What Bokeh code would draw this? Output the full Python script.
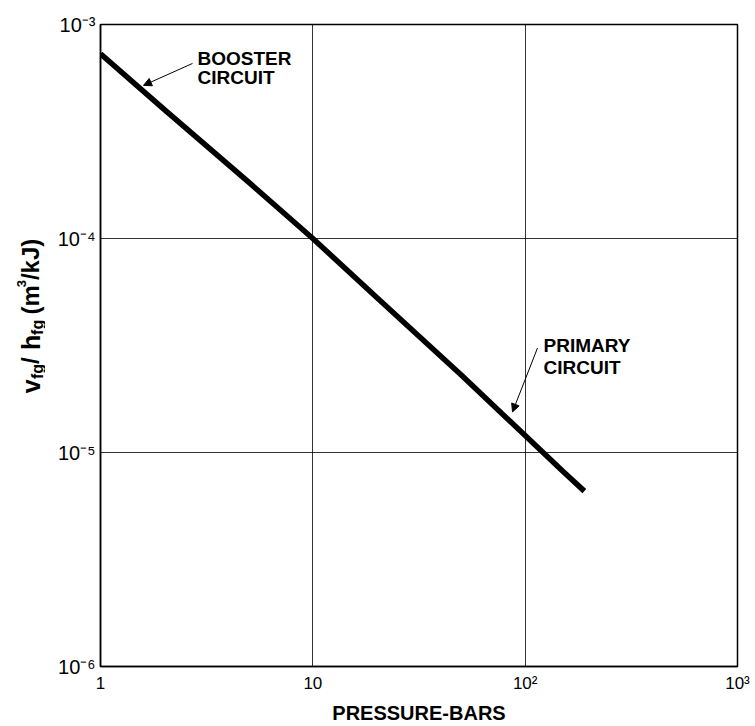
import numpy as np
from bokeh.plotting import figure
from bokeh.layouts import row
from bokeh.models import FixedTicker, Label, Arrow, NormalHead, ColumnDataSource
from bokeh.core.properties import value
from bokeh.embed import file_html
from bokeh.resources import INLINE

# ---- data ----
pressure_bar = [1, 2, 5, 10, 20, 50, 100, 150, 190]
vfg_over_hfg = [7.3e-4, 4.0e-4, 1.83e-4, 1.0e-4, 5.3e-5, 2.3e-5, 1.2e-5, 8.2e-6, 6.6e-6]

x_ticks = [1, 10, 100, 1000]
x_tick_labels = ["1", "10", "10\u00b2", "10\u00b3"]
y_ticks = [1e-6, 1e-5, 1e-4, 1e-3]
y_tick_labels = ["10\u207b\u2076", "10\u207b\u2075", "10\u207b\u2074", "10\u207b\u00b3"]

x_label = "PRESSURE-BARS"
y_label_parts = ["v", "fg", "/", "h", "fg", "(m", "3", "/kJ)"]
booster_text = ["BOOSTER", "CIRCUIT"]
primary_text = ["PRIMARY", "CIRCUIT"]

FONT = "Liberation Sans"

# ---- layout geometry (window pixels) ----
W, H = 755, 726
SIDE_W = 45                      # narrow panel holding the rotated y label
LEFT, RIGHT, TOP = 100, 18, 24   # frame edges in window pixels
FRAME_BOTTOM = 667
XDEC = (W - RIGHT - LEFT) / 3.0
YDEC = (FRAME_BOTTOM - TOP) / 3.0


def dx(px):
    return 10 ** ((px - LEFT) / XDEC)


def dy(py):
    return 10 ** (-3 - (py - TOP) / YDEC)


p = figure(width=W - SIDE_W, height=H, x_axis_type="log", y_axis_type="log",
           x_range=(1, 1000), y_range=(1e-6, 1e-3),
           output_backend="svg", toolbar_location=None, title=None,
           min_border_left=LEFT - SIDE_W, min_border_right=RIGHT,
           min_border_top=TOP, min_border_bottom=0)

p.background_fill_color = "white"
p.border_fill_color = "white"
p.outline_line_color = "black"
p.outline_line_width = 1.5

# axes
p.xaxis.ticker = FixedTicker(ticks=x_ticks, minor_ticks=[])
p.yaxis.ticker = FixedTicker(ticks=y_ticks, minor_ticks=[])
p.xaxis.major_label_overrides = {t: l for t, l in zip(x_ticks, x_tick_labels)}
p.yaxis.major_label_overrides = {t: l for t, l in zip(y_ticks, y_tick_labels)}
for ax in (p.xaxis, p.yaxis):
    ax.major_tick_in = 0
    ax.major_tick_out = 0
    ax.minor_tick_in = 0
    ax.minor_tick_out = 0
    ax.axis_line_color = "black"
    ax.axis_line_width = 1.5
    ax.major_label_text_font = FONT
    ax.major_label_text_color = "black"

p.xaxis.major_label_text_font_size = "17px"
p.xaxis.major_label_standoff = 7
p.xaxis.axis_label = x_label
p.xaxis.axis_label_text_font = FONT
p.xaxis.axis_label_text_font_style = "bold"
p.xaxis.axis_label_text_font_size = "20px"
p.xaxis.axis_label_text_color = "black"
p.xaxis.axis_label_standoff = 6

p.yaxis.major_label_text_font_size = "20px"
p.yaxis.major_label_standoff = 5

p.grid.grid_line_color = "black"
p.grid.grid_line_alpha = 0.8
p.grid.grid_line_width = 1

# curve
p.line(pressure_bar, vfg_over_hfg, line_color="black", line_width=5.5, line_cap="butt")


# annotations
def add_text(txt, px, py, size="19px", style="bold"):
    p.add_layout(Label(x=dx(px), y=dy(py), text=txt, text_font=FONT,
                       text_font_size=size, text_font_style=style,
                       text_color="black", text_baseline="alphabetic",
                       text_align="left"))


add_text(booster_text[0], 197, 58)
add_text(booster_text[1], 197, 77)
add_text(primary_text[0], 543, 346)
add_text(primary_text[1], 543, 368)

head = dict(size=8, fill_color="black", line_color="black")
p.add_layout(Arrow(end=NormalHead(**head), x_start=dx(192), y_start=dy(63),
                   x_end=dx(143), y_end=dy(85), line_width=1, line_color="black"))
p.add_layout(Arrow(end=NormalHead(**head), x_start=dx(537), y_start=dy(348),
                   x_end=dx(512), y_end=dy(412), line_width=1, line_color="black"))

# ---- side panel with the rotated y label  v_fg / h_fg (m^3/kJ) ----
side = figure(width=SIDE_W, height=H, x_range=(0, SIDE_W), y_range=(0, H),
              output_backend="svg", toolbar_location=None, title=None,
              x_axis_location=None, y_axis_location=None,
              min_border=0, min_border_left=0, min_border_right=0,
              min_border_top=0, min_border_bottom=0)
side.outline_line_color = None
side.grid.visible = False
side.background_fill_color = "white"
side.border_fill_color = "white"

base_x = [30, 37, 30, 30, 37, 30, 21, 30]           # baseline (window px)
start_y = [417, 401, 384, 368, 351, 328, 297, 289]  # text start (window px)
sizes = ["25px", "16px", "24px", "25px", "16px", "24px", "13px", "24px"]
src = ColumnDataSource(dict(x=base_x, y=[H - v for v in start_y],
                            text=y_label_parts, fs=sizes))
side.text(x="x", y="y", text="text", source=src, angle=np.pi / 2,
          text_font=value(FONT), text_font_style="bold", text_font_size="fs",
          text_color="black", text_baseline="alphabetic", text_align="left")

layout = row(side, p, spacing=0)
open("out.html", "w").write(file_html(layout, INLINE))
